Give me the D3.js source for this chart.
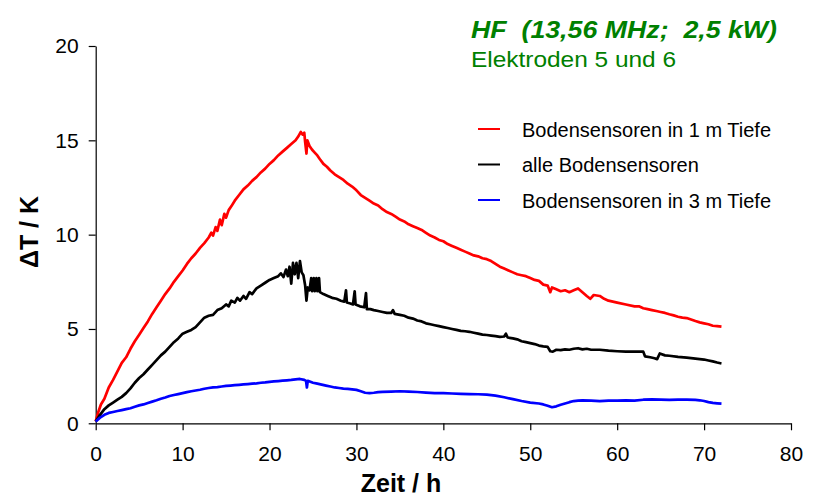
<!DOCTYPE html>
<html><head><meta charset="utf-8">
<script src="https://cdn.jsdelivr.net/npm/d3@7"></script>
<style>
body{margin:0;background:#fff;}
svg{display:block;font-family:"Liberation Sans",Arial,sans-serif;}
</style></head>
<body><svg id="chart" width="813" height="496"></svg>
<script>
// ---- data ----
const xTicks = [0,10,20,30,40,50,60,70,80];
const yTicks = [0,5,10,15,20];
const seriesNames = ["Bodensensoren in 1 m Tiefe","alle Bodensensoren","Bodensensoren in 3 m Tiefe"];
const seriesColors = ["#ff0000","#000000","#0000ff"];
const titleLine1 = "HF  (13,56 MHz;  2,5 kW)";
const titleLine2 = "Elektroden 5 und 6";
const xLabel = "Zeit / h";
const yLabel = "\u0394T / K";

const red1m = [[0,0.1],[0.3,0.6],[0.6,1.0],[1.0,1.3],[1.5,1.9],[2.0,2.3],[2.5,2.75],[3.0,3.2],[3.5,3.5],[4.0,3.95],[4.5,4.35],[5.0,4.7],[5.5,5.05],[6.0,5.4],[6.5,5.8],[7.0,6.15],[7.5,6.5],[8.0,6.85],[8.5,7.15],[9.0,7.5],[9.5,7.8],[10.0,8.1],[10.5,8.45],[11.0,8.75],[11.5,9.0],[12.0,9.3],[12.5,9.55],[13.0,9.85],[13.3,10.1],[13.5,9.95],[13.8,10.4],[14.0,10.2],[14.3,10.8],[14.5,10.5],[14.8,11.1],[15.0,10.9],[15.3,11.3],[15.6,11.5],[16.0,11.8],[16.5,12.1],[17.0,12.4],[17.5,12.6],[18.0,12.85],[18.5,13.05],[19.0,13.3],[19.5,13.5],[20.0,13.75],[20.5,13.95],[21.0,14.2],[21.5,14.4],[22.0,14.6],[22.5,14.8],[23.0,15.0],[23.3,15.2],[23.6,15.45],[23.8,15.3],[24.0,15.4],[24.1,14.9],[24.25,14.3],[24.35,15.0],[24.6,14.7],[24.9,14.5],[25.2,14.35],[25.5,14.2],[25.8,14.0],[26.2,13.75],[26.6,13.6],[27.0,13.4],[27.5,13.2],[28.0,13.05],[28.5,12.9],[29.0,12.7],[29.5,12.55],[30.0,12.35],[30.5,12.1],[31.0,11.95],[31.5,11.8],[32.0,11.65],[32.5,11.55],[33.0,11.35],[33.5,11.2],[34.0,11.1],[34.5,10.95],[35.0,10.8],[35.5,10.7],[36.0,10.55],[36.5,10.45],[37.0,10.35],[37.5,10.25],[38.0,10.1],[38.5,9.95],[39.0,9.85],[39.5,9.72],[40.0,9.65],[40.5,9.5],[41.0,9.4],[41.5,9.3],[42.0,9.2],[42.5,9.1],[43.0,9.0],[43.5,8.9],[44.0,8.85],[44.5,8.75],[45.0,8.7],[45.5,8.6],[46.0,8.45],[46.5,8.3],[47.0,8.2],[47.5,8.1],[48.0,8.0],[48.5,7.9],[49.0,7.85],[49.5,7.8],[50.0,7.7],[50.5,7.6],[51.0,7.55],[51.5,7.35],[52.0,7.3],[52.3,6.95],[52.5,7.2],[53.0,7.1],[53.5,7.0],[54.0,7.05],[54.5,6.95],[55.0,7.05],[55.5,7.15],[56.0,6.95],[56.5,6.75],[56.9,6.6],[57.3,6.8],[58.0,6.75],[58.5,6.6],[59.0,6.5],[59.5,6.45],[60.0,6.4],[61.0,6.3],[62.0,6.2],[62.5,6.2],[63.0,6.1],[63.5,6.05],[64.0,6.0],[64.5,5.95],[65.0,5.9],[65.5,5.85],[66.0,5.78],[66.5,5.72],[67.0,5.65],[67.5,5.6],[68.0,5.58],[68.5,5.5],[69.0,5.42],[69.5,5.35],[70.0,5.3],[70.5,5.25],[71.0,5.17],[71.5,5.15],[72.0,5.12]];

const blackAll = [[0,0.1],[0.5,0.45],[1.0,0.75],[1.5,0.95],[2.0,1.1],[2.5,1.25],[3.0,1.4],[3.5,1.6],[4.0,1.85],[4.5,2.15],[5.0,2.4],[5.5,2.6],[6.0,2.85],[6.5,3.1],[7.0,3.35],[7.5,3.6],[8.0,3.8],[8.5,4.05],[9.0,4.3],[9.5,4.5],[10.0,4.75],[10.5,4.85],[11.0,4.95],[11.5,5.1],[12.0,5.35],[12.5,5.6],[13.0,5.7],[13.5,5.75],[14.0,6.0],[14.5,6.1],[15.0,6.3],[15.3,6.2],[15.6,6.5],[16.0,6.4],[16.3,6.65],[16.6,6.5],[17.0,6.75],[17.3,6.6],[17.7,6.95],[18.0,6.85],[18.5,7.15],[19.0,7.3],[19.5,7.45],[20.0,7.6],[20.5,7.7],[21.0,7.8],[21.3,7.95],[21.6,7.75],[21.9,8.15],[22.1,7.8],[22.3,8.3],[22.5,7.4],[22.7,8.5],[22.9,7.9],[23.1,8.5],[23.3,7.7],[23.5,8.6],[23.7,8.0],[23.9,7.85],[24.1,7.3],[24.25,6.5],[24.4,7.2],[24.6,7.05],[24.8,7.7],[24.9,7.0],[25.1,7.7],[25.2,7.0],[25.4,7.7],[25.5,7.0],[25.7,7.7],[25.8,6.95],[26.2,6.85],[26.7,6.75],[27.2,6.65],[27.7,6.6],[28.2,6.5],[28.6,6.45],[28.8,7.05],[28.9,6.4],[29.3,6.35],[29.6,6.3],[29.8,7.0],[29.9,6.3],[30.4,6.2],[30.9,6.15],[31.1,6.9],[31.2,6.05],[31.6,6.05],[32.0,6.0],[32.5,5.95],[33.0,5.9],[33.5,5.85],[34.0,5.85],[34.2,6.0],[34.4,5.8],[35.0,5.75],[35.5,5.7],[36.0,5.6],[36.5,5.55],[37.0,5.45],[37.5,5.4],[38.0,5.3],[38.5,5.25],[39.0,5.2],[39.5,5.15],[40.0,5.1],[40.5,5.05],[41.0,5.0],[41.5,4.95],[42.0,4.9],[42.5,4.88],[43.0,4.85],[43.5,4.8],[44.0,4.75],[44.5,4.7],[45.0,4.68],[45.5,4.65],[46.0,4.62],[46.5,4.58],[47.0,4.6],[47.2,4.75],[47.4,4.55],[48.0,4.5],[48.5,4.45],[49.0,4.35],[49.5,4.3],[50.0,4.25],[50.5,4.2],[51.0,4.12],[51.5,4.08],[52.0,4.05],[52.3,3.82],[52.6,3.8],[53.0,3.9],[53.5,3.88],[54.0,3.92],[54.5,3.9],[55.0,3.95],[55.5,3.98],[56.0,3.92],[56.5,3.95],[57.0,3.9],[58.0,3.9],[59.0,3.85],[60.0,3.82],[61.0,3.8],[62.0,3.8],[63.0,3.8],[63.2,3.55],[63.8,3.5],[64.3,3.45],[64.6,3.4],[64.9,3.7],[65.5,3.6],[66.0,3.58],[67.0,3.52],[68.0,3.48],[69.0,3.43],[70.0,3.38],[70.5,3.33],[71.0,3.28],[71.5,3.22],[72.0,3.17]];

const blue3m = [[0,0.1],[0.5,0.3],[1.0,0.45],[1.5,0.55],[2.0,0.6],[2.5,0.65],[3.0,0.7],[3.5,0.75],[4.0,0.8],[4.5,0.88],[5.0,0.95],[5.5,1.0],[6.0,1.08],[6.5,1.15],[7.0,1.22],[7.5,1.3],[8.0,1.37],[8.5,1.45],[9.0,1.5],[9.5,1.55],[10.0,1.6],[10.5,1.65],[11.0,1.7],[11.5,1.74],[12.0,1.78],[12.5,1.83],[13.0,1.87],[13.5,1.9],[14.0,1.92],[14.5,1.95],[15.0,1.98],[15.5,2.0],[16.0,2.02],[16.5,2.04],[17.0,2.06],[17.5,2.08],[18.0,2.1],[18.5,2.12],[19.0,2.15],[19.5,2.17],[20.0,2.2],[20.5,2.22],[21.0,2.24],[21.5,2.26],[22.0,2.28],[22.5,2.3],[23.0,2.33],[23.5,2.35],[24.0,2.3],[24.2,2.25],[24.3,1.9],[24.4,2.25],[25.0,2.15],[25.5,2.1],[26.0,2.05],[26.5,2.0],[27.0,1.95],[27.5,1.9],[28.0,1.87],[28.5,1.84],[29.0,1.82],[29.5,1.8],[30.0,1.77],[30.5,1.7],[31.0,1.62],[31.5,1.6],[32.0,1.62],[32.5,1.65],[33.0,1.67],[34.0,1.68],[35.0,1.7],[36.0,1.68],[37.0,1.66],[38.0,1.63],[39.0,1.6],[40.0,1.6],[41.0,1.58],[42.0,1.56],[43.0,1.55],[44.0,1.54],[45.0,1.52],[46.0,1.47],[47.0,1.38],[48.0,1.28],[49.0,1.18],[50.0,1.1],[51.0,1.05],[51.5,1.0],[52.0,0.93],[52.5,0.85],[53.0,0.9],[53.5,0.98],[54.0,1.05],[54.5,1.12],[55.0,1.18],[55.5,1.2],[56.0,1.22],[57.0,1.2],[58.0,1.18],[59.0,1.2],[60.0,1.2],[61.0,1.22],[62.0,1.2],[63.0,1.25],[64.0,1.27],[65.0,1.25],[66.0,1.24],[67.0,1.25],[68.0,1.26],[69.0,1.24],[69.5,1.22],[70.0,1.18],[70.5,1.12],[71.0,1.08],[71.5,1.06],[72.0,1.04]];

const allSeries = [red1m, blackAll, blue3m];

// ---- layout ----
const svg = d3.select("#chart");
const m = {left:95.7, right:791, top:46, bottom:423.3};
const x = d3.scaleLinear().domain([0,80]).range([m.left, m.right]);
const y = d3.scaleLinear().domain([0,20]).range([m.bottom, m.top]);

const gx = svg.append("g").attr("transform",`translate(0,${m.bottom})`)
  .call(d3.axisBottom(x).tickValues(xTicks).tickSize(7).tickSizeOuter(0).tickPadding(16));
const gy = svg.append("g").attr("transform",`translate(${m.left},0)`)
  .call(d3.axisLeft(y).tickValues(yTicks).tickSize(7).tickSizeOuter(0).tickPadding(10));
[gx,gy].forEach(g=>{
  g.selectAll("text").attr("font-size",21).attr("font-family","Liberation Sans, Arial, sans-serif").attr("fill","#000");
  g.selectAll("line,path").attr("stroke","#000").attr("stroke-width",1.2);
});

const line = d3.line().x(d=>x(d[0])).y(d=>y(d[1]));
allSeries.forEach((s,i)=>{
  svg.append("path").datum(s).attr("d",line)
    .attr("fill","none").attr("stroke",seriesColors[i])
    .attr("stroke-width",2.7).attr("stroke-linejoin","round");
});

// axis titles
svg.append("text").attr("x",401).attr("y",492).attr("text-anchor","middle")
  .attr("font-size",25).attr("font-weight","bold").text(xLabel);
svg.append("text").attr("transform","translate(38,232) rotate(-90)").attr("text-anchor","middle")
  .attr("font-size",25).attr("font-weight","bold").text(yLabel);

// title
svg.append("text").attr("x",471).attr("y",37.5).attr("fill","#008000")
  .attr("font-size",23).attr("font-weight","bold").attr("font-style","italic")
  .style("white-space","pre").attr("textLength",306).attr("lengthAdjust","spacingAndGlyphs")
  .text(titleLine1);
svg.append("text").attr("x",471).attr("y",67).attr("fill","#008000")
  .attr("font-size",22).attr("textLength",205).attr("lengthAdjust","spacingAndGlyphs")
  .text(titleLine2);

// legend
const lg = svg.append("g");
seriesNames.forEach((n,i)=>{
  const yy = 129 + i*35.5;
  lg.append("line").attr("x1",478).attr("x2",500).attr("y1",yy).attr("y2",yy)
    .attr("stroke",seriesColors[i]).attr("stroke-width",2);
  lg.append("text").attr("x",522).attr("y",yy+7.5).attr("font-size",20).attr("fill","#000").text(n);
});
</script></body></html>
